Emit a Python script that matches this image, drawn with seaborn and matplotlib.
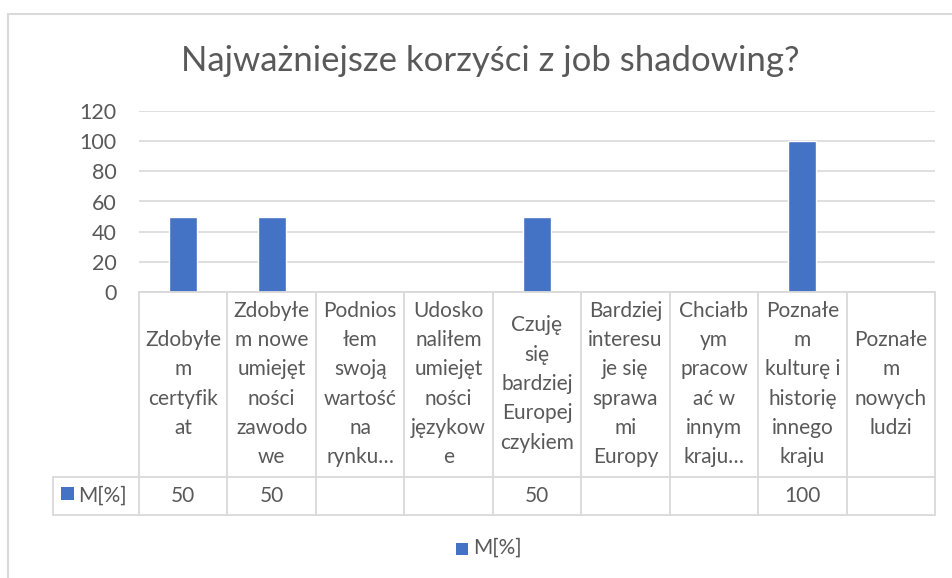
import numpy as np
import pandas as pd
import matplotlib
matplotlib.use("Agg")
import matplotlib.pyplot as plt
import matplotlib.transforms as mtrans
from matplotlib.lines import Line2D
from matplotlib.patches import Rectangle
import seaborn as sns

# ---------------- data ----------------
title = "Najważniejsze korzyści z job shadowing?"
series_name = "M[%]"
categories = [
    "Zdobyłem certyfikat",
    "Zdobyłem nowe umiejętności zawodowe",
    "Podniosłem swoją wartość na rynku...",
    "Udoskonaliłem umiejętności językowe",
    "Czuję się bardziej Europejczykiem",
    "Bardziej interesuje się sprawami Europy",
    "Chciałbym pracować w innym kraju...",
    "Poznałem kulturę i historię innego kraju",
    "Poznałem nowych ludzi",
]
header_labels = [
    "Zdobyłe\nm\ncertyfik\nat",
    "Zdobyłe\nm nowe\numiejęt\nności\nzawodo\nwe",
    "Podnios\nłem\nswoją\nwartość\nna\nrynku…",
    "Udosko\nnaliłem\numiejęt\nności\njęzykow\ne",
    "Czuję\nsię\nbardziej\nEuropej\nczykiem",
    "Bardziej\ninteresu\nje się\nsprawa\nmi\nEuropy",
    "Chciałb\nym\npracow\nać w\ninnym\nkraju…",
    "Poznałe\nm\nkulturę i\nhistorię\ninnego\nkraju",
    "Poznałe\nm\nnowych\nludzi",
]
values = [50, 50, np.nan, np.nan, 50, np.nan, np.nan, 100, np.nan]
yticks = [0, 20, 40, 60, 80, 100, 120]

# ---------------- style ----------------
BAR = "#4472C4"
TXT = "#595959"
GRID = "#D9D9D9"
FONT = ["Lato", "DejaVu Sans"]

sns.set_theme(style="white")
plt.rcParams["font.family"] = FONT

W, H = 952, 578
fig = plt.figure(figsize=(W / 100, H / 100), dpi=100)

def fx(px):
    return px / W

def fy(py):
    return 1 - py / H

ax_left, ax_right, ax_top, ax_bottom = 139, 935, 111, 292
ax = fig.add_axes([fx(ax_left), fy(ax_bottom), fx(ax_right - ax_left), (ax_bottom - ax_top) / H])

df = pd.DataFrame({"cat": categories, "val": values})
sns.barplot(data=df, x="cat", y="val", order=categories, color=BAR,
            saturation=1, width=0.32, ax=ax)

ax.set_xlim(-0.5, len(categories) - 0.5)
ax.set_ylim(0, 120)
ax.set_yticks(yticks)
ax.set_yticklabels([str(t) for t in yticks], color=TXT, fontsize=15.5)
ax.tick_params(axis="y", length=0, pad=16)
ax.set_xticks([])
ax.set_xlabel("")
ax.set_ylabel("")
for s in ax.spines.values():
    s.set_visible(False)
ax.yaxis.grid(True, color=GRID, linewidth=1.2)
ax.set_axisbelow(True)

# ---------------- data table ----------------
blend = mtrans.blended_transform_factory(ax.transData, fig.transFigure)
n = len(categories)
head_top, head_bot, row_bot = 292, 477, 515
row_label_left = 53

def hline(x0, x1, y, tr):
    fig.add_artist(Line2D([x0, x1], [fy(y), fy(y)], transform=tr, color=GRID, lw=1.3))

hline(-0.5, n - 0.5, head_top, blend)
hline(-0.5, n - 0.5, head_bot, blend)
hline(-0.5, n - 0.5, row_bot, blend)
hline(fx(row_label_left), fx(ax_left), head_bot, fig.transFigure)
hline(fx(row_label_left), fx(ax_left), row_bot, fig.transFigure)
fig.add_artist(Line2D([fx(row_label_left)] * 2, [fy(head_bot), fy(row_bot)],
                      transform=fig.transFigure, color=GRID, lw=1.3))
for i in range(n + 1):
    fig.add_artist(Line2D([i - 0.5, i - 0.5], [fy(head_top), fy(row_bot)],
                          transform=blend, color=GRID, lw=1.3))

for i, (lab, v) in enumerate(zip(header_labels, values)):
    fig.text(i, fy(384), lab, transform=blend,
             ha="center", va="center", fontsize=15, color=TXT, linespacing=1.58)
    if not np.isnan(v):
        fig.text(i, fy((head_bot + row_bot) / 2), f"{v:g}", transform=blend,
                 ha="center", va="center", fontsize=15, color=TXT)

# row header
fig.add_artist(Rectangle((fx(61), fy(500)), fx(13), 13 / H, transform=fig.transFigure,
                         color=BAR, lw=0))
fig.text(fx(78), fy((head_bot + row_bot) / 2), series_name, ha="left", va="center",
         fontsize=15, color=TXT)

# legend
fig.add_artist(Rectangle((fx(456), fy(555)), fx(12), 12 / H, transform=fig.transFigure,
                         color=BAR, lw=0))
fig.text(fx(473), fy(548), series_name, ha="left", va="center", fontsize=15, color=TXT)

# title
fig.text(0.5147, fy(61), title, ha="center", va="center", fontsize=25, color=TXT)

# chart border (top-left visible)
fig.add_artist(Line2D([fx(8), fx(8)], [fy(14), 0], transform=fig.transFigure, color=GRID, lw=1.5))
fig.add_artist(Line2D([fx(8), 1], [fy(14), fy(14)], transform=fig.transFigure, color=GRID, lw=1.5))

fig.savefig("out.png", dpi=100, facecolor="white")
